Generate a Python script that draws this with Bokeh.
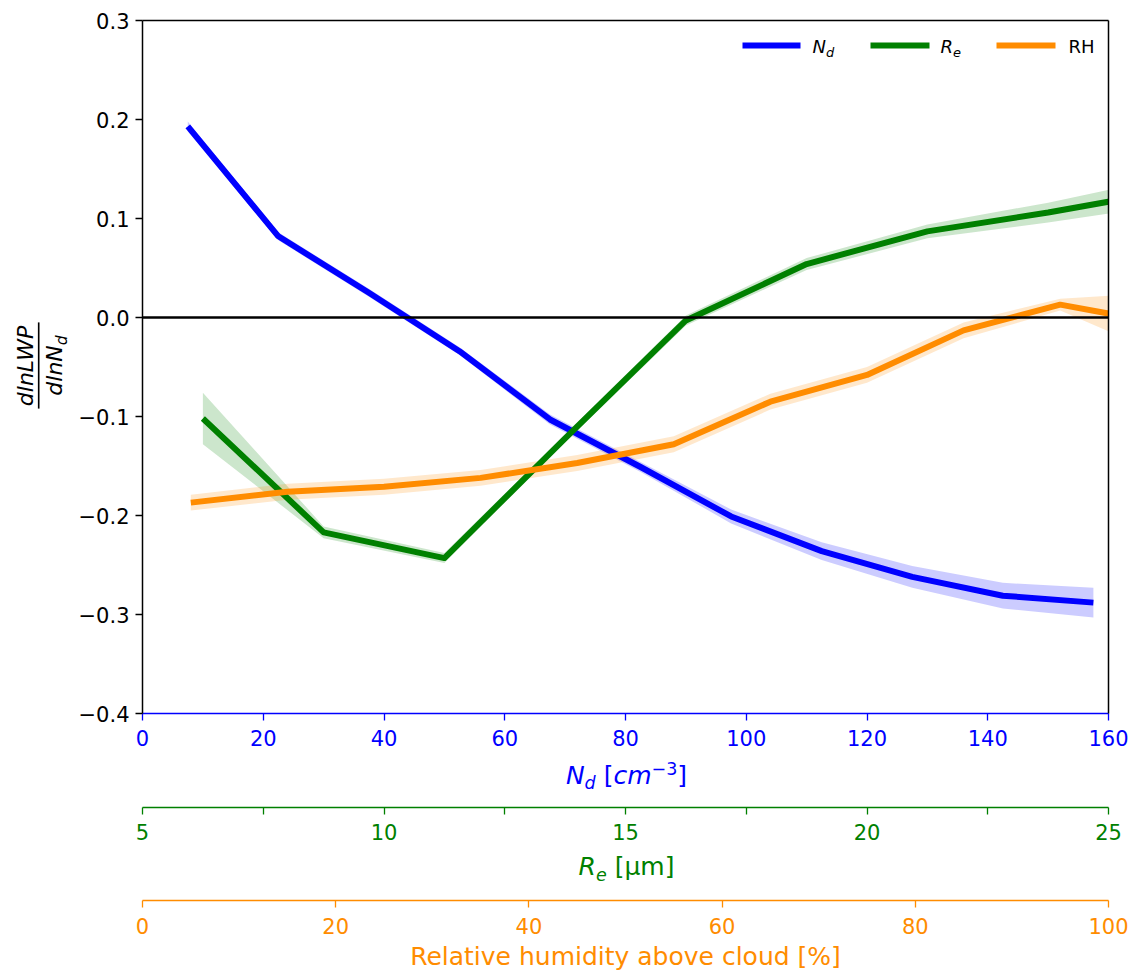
import math
from bokeh.plotting import figure
from bokeh.models import (Range1d, LinearAxis, FixedTicker, CustomJSTickFormatter,
                          Span, Label)
from bokeh.embed import file_html
from bokeh.resources import INLINE

# ---------------- data ----------------
nd_x = [7.5, 22.5, 37.5, 52.5, 67.5, 82.5, 97.5, 112.5, 127.5, 142.5, 157.5]
nd_y = [0.193, 0.082, 0.025, -0.034, -0.103, -0.151, -0.201, -0.236, -0.262, -0.281, -0.288]
nd_err = [0.005, 0.004, 0.004, 0.004, 0.005, 0.005, 0.007, 0.009, 0.011, 0.013, 0.015]

re_x = [6.25, 8.75, 11.25, 13.75, 16.25, 18.75, 21.25, 23.75, 26.25]
re_y = [-0.102, -0.217, -0.243, -0.122, -0.003, 0.054, 0.087, 0.106, 0.128]
re_err = [0.026, 0.006, 0.005, 0.004, 0.005, 0.006, 0.007, 0.010, 0.014]

rh_x = [5, 15, 25, 35, 45, 55, 65, 75, 85, 95, 105]
rh_y = [-0.187, -0.176, -0.171, -0.162, -0.147, -0.128, -0.085, -0.058, -0.013, 0.013, -0.005]
rh_err = [0.008, 0.008, 0.008, 0.008, 0.008, 0.008, 0.008, 0.008, 0.008, 0.006, 0.030]

y_ticks = [-0.4, -0.3, -0.2, -0.1, 0.0, 0.1, 0.2, 0.3]
nd_ticks = [0, 20, 40, 60, 80, 100, 120, 140, 160]
re_ticks = [5, 10, 15, 20, 25]
re_minor = [7.5, 12.5, 17.5, 22.5]
rh_ticks = [0, 20, 40, 60, 80, 100]

BLUE = "#0000ff"
GREEN = "#008000"
ORANGE = "#ff8c00"
FONT = "DejaVu Sans"

FL, FT = 142, 20          # frame position on the page (px)
FW, FH = 966, 693         # frame size (px)
X0, X1 = 0, 160
Y0, Y1 = -0.4, 0.3

p = figure(frame_width=FW, frame_height=FH, output_backend="svg", toolbar_location=None,
           x_range=Range1d(X0, X1), y_range=Range1d(Y0, Y1),
           x_axis_location=None, y_axis_location=None,
           min_border_left=FL, min_border_top=FT, min_border_right=20, min_border_bottom=250)
p.extra_x_ranges = {"re": Range1d(5, 25), "rh": Range1d(0, 100)}
p.outline_line_color = None
p.grid.grid_line_color = None
p.background_fill_color = "white"
p.border_fill_color = "white"


def style_axis(ax, color, size="21px"):
    ax.axis_line_color = color
    ax.axis_line_width = 1.3
    ax.major_tick_line_color = color
    ax.major_tick_line_width = 1.3
    ax.major_tick_in = 0
    ax.major_tick_out = 7
    ax.minor_tick_line_color = None
    ax.major_label_text_color = color
    ax.major_label_text_font = FONT
    ax.major_label_text_font_size = size
    ax.axis_label_text_font = FONT
    ax.axis_label_text_font_style = "normal"
    ax.axis_label_text_font_size = "25px"
    ax.axis_label_text_color = color


# left axis
ax_y = LinearAxis(ticker=FixedTicker(ticks=y_ticks),
                  formatter=CustomJSTickFormatter(
                      code="return (tick < -1e-9 ? '\u2212' : '') + Math.abs(tick).toFixed(1);"))
style_axis(ax_y, "black")
ax_y.axis_line_width = 1.5
ax_y.major_label_standoff = 6
p.add_layout(ax_y, "left")

# top and right spines
for loc in ("above", "right"):
    a = LinearAxis(ticker=FixedTicker(ticks=[]))
    a.axis_line_color = "black"
    a.axis_line_width = 1.5
    a.major_tick_line_color = None
    a.minor_tick_line_color = None
    a.major_label_text_font_size = "0px"
    a.major_label_standoff = 0
    p.add_layout(a, loc)

# bottom axes
ax_nd = LinearAxis(ticker=FixedTicker(ticks=nd_ticks))
style_axis(ax_nd, BLUE)
ax_nd.major_label_standoff = 9
ax_nd.axis_label = " "
ax_nd.axis_label_standoff = 27
p.add_layout(ax_nd, "below")

ax_re = LinearAxis(x_range_name="re", ticker=FixedTicker(ticks=re_ticks, minor_ticks=re_minor))
style_axis(ax_re, GREEN)
ax_re.minor_tick_line_color = GREEN
ax_re.minor_tick_line_width = 1.3
ax_re.minor_tick_in = 0
ax_re.minor_tick_out = 7
ax_re.major_label_standoff = 9
ax_re.axis_label = " "
ax_re.axis_label_standoff = 26
p.add_layout(ax_re, "below")

ax_rh = LinearAxis(x_range_name="rh", ticker=FixedTicker(ticks=rh_ticks))
style_axis(ax_rh, ORANGE)
ax_rh.major_label_standoff = 10
ax_rh.axis_label = "Relative humidity above cloud [%]"
ax_rh.axis_label_standoff = 5
p.add_layout(ax_rh, "below")

# ---------------- series ----------------
def band(xs, ys, es, color, rname=None):
    lo = [y - e for y, e in zip(ys, es)]
    hi = [y + e for y, e in zip(ys, es)]
    kw = {"x_range_name": rname} if rname else {}
    p.varea(x=xs, y1=lo, y2=hi, fill_color=color, fill_alpha=0.2, **kw)


band(nd_x, nd_y, nd_err, BLUE)
band(re_x, re_y, re_err, GREEN, "re")
band(rh_x, rh_y, rh_err, ORANGE, "rh")

p.line(nd_x, nd_y, line_color=BLUE, line_width=6, line_join="round")
p.line(re_x, re_y, line_color=GREEN, line_width=6, line_join="round", x_range_name="re")
p.line(rh_x, rh_y, line_color=ORANGE, line_width=6, line_join="round", x_range_name="rh")

p.add_layout(Span(location=0, dimension="width", line_color="black", line_width=2.5))

# ---------------- text helpers ----------------
EM = {"N": 0.748, "d": 0.635, " ": 0.318, "[": 0.390, "]": 0.390, "c": 0.550, "m": 0.974,
      "−": 0.838, "3": 0.636, "R": 0.695, "e": 0.615, "μ": 0.636, "l": 0.278, "n": 0.634,
      "L": 0.557, "W": 0.989, "P": 0.603, "H": 0.752}
MID = 0.346   # distance baseline -> em-box middle, in em


def tw(txt, size):
    return sum(EM.get(ch, 0.6) for ch in txt) * size


def page_to_data(px, py):
    return (X0 + (px - FL) / FW * (X1 - X0), Y1 - (py - FT) / FH * (Y1 - Y0))


def place_runs(runs, cx, cy, angle=0.0, color="black", center=True, side="center"):
    """Place styled text runs; (cx, cy) = page px of the baseline centre/start."""
    total = sum(tw(t, s) for t, s, _, _ in runs)
    dx, dy = math.cos(angle), -math.sin(angle)      # along the text (page coords)
    ux, uy = -math.sin(angle), -math.cos(angle)     # "up" from the baseline
    pos = -total / 2 if center else 0.0
    for txt, size, italic, shift in runs:
        lead = len(txt) - len(txt.lstrip(" "))
        pos += tw(" " * lead, size)
        txt = txt.lstrip(" ")
        up = shift + MID * size
        px = cx + pos * dx + up * ux
        py = cy + pos * dy + up * uy
        x, y = page_to_data(px, py)
        lab = Label(x=x, y=y, text=txt, text_font=FONT, text_font_size=f"{size}px",
                    text_font_style="italic" if italic else "normal",
                    text_color=color, text_align="left", text_baseline="middle",
                    angle=angle)
        p.add_layout(lab, side)
        pos += tw(txt, size)


# x-axis labels with sub/superscripts (outer bottom panel so they are not clipped)
place_runs([("N", 25, True, 0), ("d", 17.5, True, -5), (" [", 25, False, 0),
            ("cm", 25, True, 0), ("−3", 17.5, False, 10), ("]", 25, False, 0)],
           626, 784, color=BLUE, side="below")
place_runs([("R", 25, True, 0), ("e", 17.5, True, -5), (" [μm]", 25, False, 0)],
           626, 875, color=GREEN, side="below")

# y-axis label: fraction dlnLWP / dlnN_d (left panel -> vertical text)
place_runs([("dlnLWP", 22, True, 0)], 33, 365, angle=math.pi / 2, side="left")
place_runs([("dlnN", 22, True, 0), ("d", 15.5, True, -5)], 62, 365, angle=math.pi / 2,
           side="left")
bx, by = page_to_data(38.2, 365)
p.add_layout(Label(x=bx, y=by, text=" " * 195, text_font=FONT, text_font_size="1.4px",
                   text_align="center", text_baseline="middle", angle=math.pi / 2,
                   background_fill_color="black", background_fill_alpha=1.0), "left")

# legend (inside the frame)
def fx(px):
    return X0 + px / FW * (X1 - X0)


def fy(py_from_top):
    return Y1 - py_from_top / FH * (Y1 - Y0)


leg_y = fy(25)
for (a, b), col in zip([(600, 658), (728, 787), (854, 913)], [BLUE, GREEN, ORANGE]):
    p.segment(x0=[fx(a)], y0=[leg_y], x1=[fx(b)], y1=[leg_y], line_color=col, line_width=6)

place_runs([("N", 18, True, 0), ("d", 13, True, -4)], 812, 52, center=False)
place_runs([("R", 18, True, 0), ("e", 13, True, -4)], 940, 52, center=False)
place_runs([("RH", 18, False, 0)], 1068, 52, center=False)

open("out.html", "w").write(file_html(p, INLINE))
